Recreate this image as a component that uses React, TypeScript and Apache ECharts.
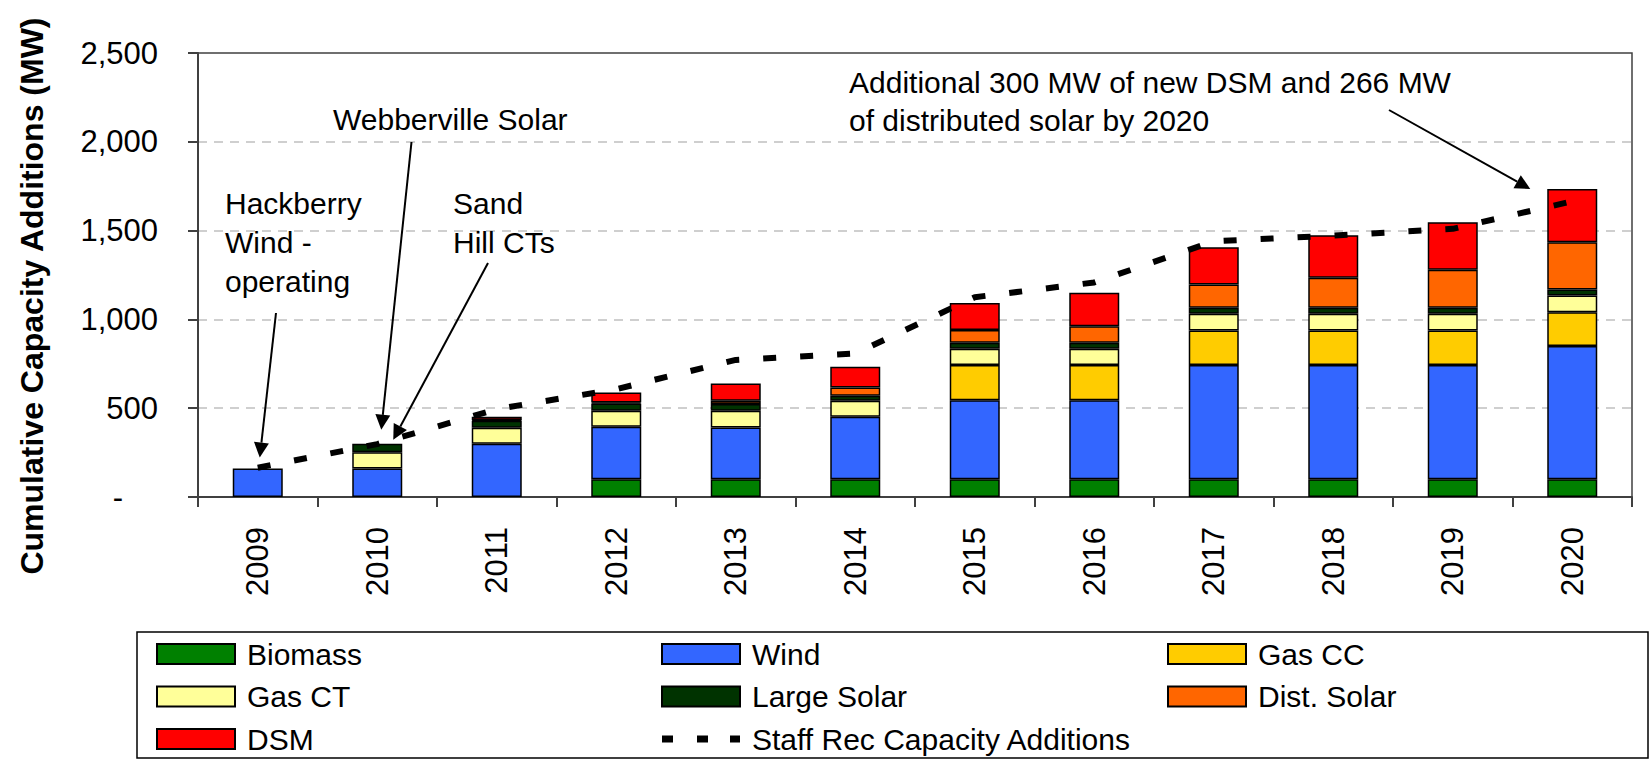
import { useEffect, useRef } from "react";
import * as echarts from "echarts";

// Cumulative capacity additions by resource type (MW)
const years = ["2009", "2010", "2011", "2012", "2013", "2014", "2015", "2016", "2017", "2018", "2019", "2020"];
const biomass = [0, 0, 0, 100, 100, 100, 100, 100, 100, 100, 100, 100];
const wind = [160, 160, 300, 296, 292, 352, 445, 445, 643, 643, 643, 750];
const gasCC = [0, 0, 0, 0, 0, 0, 198, 198, 195, 195, 195, 190];
const gasCT = [0, 92, 90, 90, 94, 90, 92, 92, 94, 94, 94, 94];
const largeSolar = [0, 48, 40, 40, 38, 28, 34, 34, 33, 33, 33, 34];
const distSolar = [0, 0, 4, 6, 18, 47, 71, 93, 132, 169, 214, 266];
const dsm = [0, 0, 18, 56, 97, 116, 153, 188, 209, 240, 268, 300];
const staffRec = [165, 298, 495, 607, 772, 808, 1125, 1208, 1440, 1472, 1510, 1665];

const yMin = 0;
const yMax = 2500;
const yStep = 500;

const FONT = "'Liberation Sans', Arial, Helvetica, sans-serif";

const stacks = [
  { name: "Biomass", values: biomass, color: "#008000" },
  { name: "Wind", values: wind, color: "#3366FF" },
  { name: "Gas CC", values: gasCC, color: "#FFCC00" },
  { name: "Gas CT", values: gasCT, color: "#FFFF99" },
  { name: "Large Solar", values: largeSolar, color: "#003300" },
  { name: "Dist. Solar", values: distSolar, color: "#FF6600" },
  { name: "DSM", values: dsm, color: "#FF0000" },
];
const lineName = "Staff Rec Capacity Additions";

export default function App() {
  const ref = useRef<HTMLDivElement>(null);

  useEffect(() => {
    document.body.style.margin = "0";
    const chart = echarts.init(ref.current!, null, { renderer: "svg" });

    const barSeries = stacks.map((s) => ({
      name: s.name,
      type: "bar",
      stack: "total",
      barWidth: 50,
      silent: true,
      data: s.values.map((v) => (v === 0 ? null : v)),
      itemStyle: { color: s.color, borderColor: "#000", borderWidth: 1.5 },
      emphasis: { disabled: true },
    }));

    const legendText = {
      fontSize: 30,
      fontFamily: FONT,
      color: "#000",
      lineHeight: 30,
      padding: [0, 0, 0, 7],
    };
    const legendBase = {
      orient: "vertical",
      top: 639,
      padding: 0,
      itemWidth: 78,
      itemHeight: 20,
      itemGap: 12.5,
      selectedMode: false,
      textStyle: legendText,
    };
    const barItem = (name: string) => ({ name, icon: "rect" });

    chart.setOption({
      animation: false,
      tooltip: { show: false },
      grid: {
        left: 198,
        right: 19,
        top: 53,
        bottom: 263,
        show: true,
        borderColor: "#404040",
        borderWidth: 1.5,
        backgroundColor: "transparent",
      },
      legend: [
        { ...legendBase, left: 156, data: [barItem("Biomass"), barItem("Gas CT"), barItem("DSM")] },
        {
          ...legendBase,
          left: 661,
          data: [
            barItem("Wind"),
            barItem("Large Solar"),
            { name: lineName, icon: "path://M0,0h11v7h-11z M35,0h11v7h-11z M68,0h10v7h-10z" },
          ],
        },
        { ...legendBase, left: 1167, data: [barItem("Gas CC"), barItem("Dist. Solar")] },
      ],
      xAxis: {
        type: "category",
        data: years,
        axisLine: { lineStyle: { color: "#404040", width: 2 } },
        axisTick: { show: true, length: 10, lineStyle: { color: "#404040", width: 2 } },
        axisLabel: {
          rotate: 90,
          margin: 30,
          fontSize: 31,
          fontFamily: FONT,
          color: "#000",
        },
      },
      yAxis: {
        type: "value",
        min: yMin,
        max: yMax,
        interval: yStep,
        axisLine: { show: true, lineStyle: { color: "#404040", width: 2 } },
        axisTick: { show: true, length: 10, lineStyle: { color: "#404040", width: 2 } },
        splitLine: {
          showMaxLine: false,
          showMinLine: false,
          lineStyle: { color: "#c0c0c0", width: 1.5, type: [9, 7] },
        },
        axisLabel: {
          margin: 40,
          fontSize: 31,
          fontFamily: FONT,
          color: "#000",
          formatter: (v: number) => (v === 0 ? "{d|-}" : v.toLocaleString("en-US")),
          rich: { d: { fontSize: 31, fontFamily: FONT, color: "#000", padding: [0, 35, 0, 0] } },
        },
      },
      series: [
        ...barSeries,
        {
          name: lineName,
          type: "line",
          data: staffRec,
          symbol: "none",
          silent: true,
          z: 5,
          lineStyle: { color: "#000", width: 6, type: [13, 24], cap: "butt" },
          itemStyle: { color: "#000" },
          emphasis: { disabled: true },
        },
      ],
    });

    // Annotation callouts anchored to the bar tops
    const totals = years.map((_, i) => stacks.reduce((acc, s) => acc + s.values[i], 0));
    const px = (i: number, v: number) => chart.convertToPixel({ gridIndex: 0 }, [years[i], v]) as number[];

    const arrow = (x1: number, y1: number, x2: number, y2: number) => {
      const dx = x2 - x1;
      const dy = y2 - y1;
      const len = Math.hypot(dx, dy);
      const ux = dx / len;
      const uy = dy / len;
      const headLen = 15;
      const half = 7.5;
      const bx = x2 - ux * headLen;
      const by = y2 - uy * headLen;
      return [
        {
          type: "line",
          silent: true,
          shape: { x1, y1, x2: bx, y2: by },
          style: { stroke: "#000", lineWidth: 2 },
        },
        {
          type: "polygon",
          silent: true,
          shape: {
            points: [
              [x2, y2],
              [bx - uy * half, by + ux * half],
              [bx + uy * half, by - ux * half],
            ],
          },
          style: { fill: "#000" },
        },
      ];
    };

    const label = (text: string, x: number, y: number) => ({
      type: "text",
      silent: true,
      x,
      y,
      style: {
        text,
        font: `30px ${FONT}`,
        fill: "#000",
        align: "left",
        verticalAlign: "middle",
      },
    });

    const p2009 = px(0, totals[0]);
    const p2010 = px(1, totals[1]);
    const p2020 = px(11, totals[11]);

    chart.setOption({
      graphic: [
        ...arrow(276, 313, p2009[0] + 2, p2009[1] - 11),
        ...arrow(411.5, 142, p2010[0] + 4, p2010[1] - 14),
        ...arrow(488, 263, p2010[0] + 16, p2010[1] - 4),
        ...arrow(1389, 110, p2020[0] - 42, p2020[1]),
        label("Hackberry", 225, 203),
        label("Wind -", 225, 242),
        label("operating", 225, 281),
        label("Webberville Solar", 333, 119),
        label("Sand", 453, 203.5),
        label("Hill CTs", 453, 242),
        label("Additional 300 MW of new DSM and 266 MW", 849, 82),
        label("of distributed solar by 2020", 849, 120),
        {
          type: "text",
          silent: true,
          x: 32,
          y: 296,
          rotation: Math.PI / 2,
          style: {
            text: "Cumulative Capacity Additions (MW)",
            font: `bold 32px ${FONT}`,
            fill: "#000",
            align: "center",
            verticalAlign: "middle",
          },
        },
        {
          type: "rect",
          silent: true,
          shape: { x: 137, y: 632, width: 1511, height: 126 },
          style: { fill: "none", stroke: "#000", lineWidth: 1.5 },
        },
      ],
    });

    return () => chart.dispose();
  }, []);

  return <div ref={ref} style={{ width: 1651, height: 760, background: "#fff" }} />;
}
